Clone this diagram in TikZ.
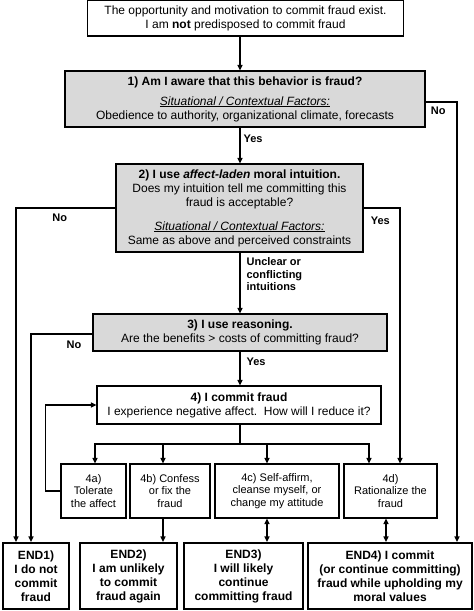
\documentclass[tikz,border=0pt]{standalone}
\usepackage{fontspec}
\setmainfont{Liberation Sans}
\usetikzlibrary{arrows.meta, positioning}
\usetikzlibrary{calc}

\begin{document}
\begin{tikzpicture}[
    x=1pt, y=-1pt,
    box/.style={draw, rectangle, line width=1.2pt, inner sep=0pt, align=center, font=\fontsize{12}{14}\selectfont},
    graybox/.style={box, fill=gray!30},
    optbox/.style={box, minimum height=54pt, font=\fontsize{11}{12.5}\selectfont},
    endbox/.style={box, line width=2.2pt, minimum height=66pt, font=\fontsize{12}{14}\selectfont\bfseries},
    arrow/.style={-{Triangle[length=5.5pt, width=5pt]}, line width=1.2pt},
    twoway/.style={{Triangle[length=5.5pt, width=5pt]}-{Triangle[length=5.5pt, width=5pt]}, line width=1.2pt},
    lbl/.style={font=\fontsize{11}{12.5}\selectfont\bfseries, inner sep=0pt, align=left}
]
\useasboundingbox (0,0) rectangle (474,611);

% Nodes
\node[box, minimum width=316pt, minimum height=35.5pt] (start) at (245.5,18.25)
    {The opportunity and motivation to commit fraud exist.\\ I am \textbf{not} predisposed to commit fraud};
\node[graybox, minimum width=360pt, minimum height=56pt] (aware) at (245,99)
    {\textbf{1) Am I aware that this behavior is fraud?}\\[6pt]
     \underline{\textit{Situational / Contextual Factors:}}\\ Obedience to authority, organizational climate, forecasts};
\node[graybox, minimum width=247pt, minimum height=88pt] (intuit) at (239.5,208)
    {\textbf{2) I use \textit{affect-laden} moral intuition.}\\ Does my intuition tell me committing this\\ fraud is acceptable?\\[10pt]
     \underline{\textit{Situational / Contextual Factors:}}\\ Same as above and perceived constraints};
\node[graybox, minimum width=294pt, minimum height=37pt] (reason) at (240,332.5)
    {\textbf{3) I use reasoning.}\\ Are the benefits > costs of committing fraud?};
\node[box, minimum width=284pt, minimum height=38pt] (commit) at (239,405)
    {\textbf{4) I commit fraud}\\ I experience negative affect.\ \ How will I reduce it?};

% Ways to reduce the affect
\node[optbox, minimum width=65pt] (opta) at (93.5,491) {4a)\\ Tolerate\\ the affect};
\node[optbox, minimum width=80pt] (optb) at (170,491) {4b) Confess\\ or fix the\\ fraud};
\node[optbox, minimum width=124pt] (optc) at (277,491) {4c) Self-affirm,\\ cleanse myself, or\\ change my attitude};
\node[optbox, minimum width=93pt] (optd) at (390.5,491) {4d)\\ Rationalize the\\ fraud};

% Outcomes
\node[endbox, minimum width=66pt] (end1) at (36,576) {END1)\\ I do not\\ commit\\ fraud};
\node[endbox, minimum width=97pt] (end2) at (128.5,576) {END2)\\ I am unlikely\\ to commit\\ fraud again};
\node[endbox, minimum width=119pt] (end3) at (243.5,576) {END3)\\ I will likely\\ continue\\ committing fraud};
\node[endbox, minimum width=164pt] (end4) at (390,576) {END4) I commit\\ (or continue committing)\\ fraud while upholding my\\ moral values};

\coordinate (spine) at (240,0);
\coordinate (fork) at (240,444);

% Main line
\draw[arrow] (start.south -| spine) -- (aware.north -| spine);
\draw[arrow] (aware.south -| spine) -- node[lbl, right=3pt, pos=0.3] {Yes} (intuit.north -| spine);
\draw[arrow] (intuit.south -| spine) -- node[lbl, right=6pt, pos=0.36] {Unclear or\\ conflicting\\ intuitions} (reason.north -| spine);
\draw[arrow] (reason.south -| spine) -- node[lbl, right=6pt, pos=0.3] {Yes} (commit.north -| spine);

% Side branches
\draw[arrow] ([yshift=-3pt]aware.east) -| node[lbl, below=4pt, pos=0.2] {No} (end4.north -| 457,0);
\draw[arrow] (intuit.west) -| node[lbl, below=5pt, pos=0.28] {No} (end1.north -| 16,0);
\draw[arrow] (intuit.east) -| node[lbl, below=8pt, pos=0.23] {Yes} (optd.north -| 400,0);
\draw[arrow] ([yshift=-1.5pt]reason.west) -| node[lbl, below=6pt, pos=0.15] {No} (end1.north -| 31,0);

% Fork to the options
\draw[line width=1.2pt] (commit.south -| fork) -- (fork);
\foreach \n/\x in {opta/95, optb/163, optc/267, optd/369}
    \draw[arrow] (fork) -| (\n.north -| \x,0);
\draw[arrow] (opta.west) -- ++(-15,0) |- (commit.west);

% Options to outcomes
\draw[arrow] (optb.south -| 163,0) -- (end2.north -| 163,0);
\draw[twoway] (optc.south -| 267,0) -- (end3.north -| 267,0);
\draw[twoway] (optd.south -| 386,0) -- (end4.north -| 386,0);

\end{tikzpicture}
\end{document}
